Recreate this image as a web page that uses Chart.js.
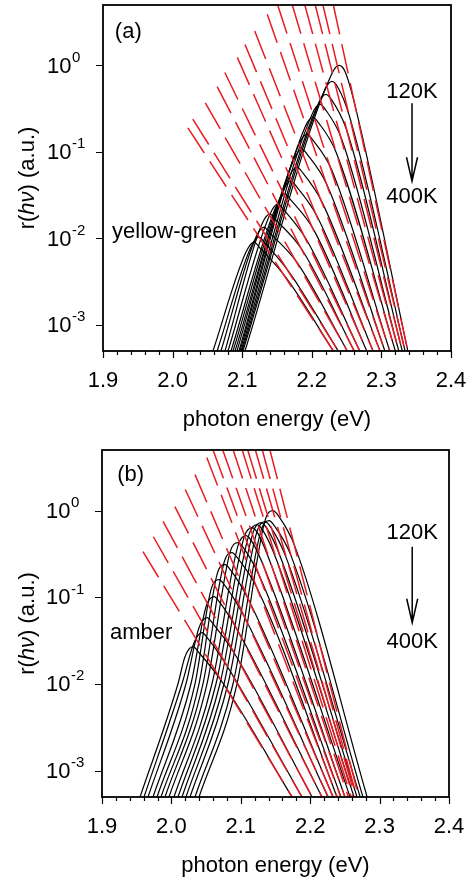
<!DOCTYPE html>
<html>
<head>
<meta charset="utf-8">
<script src="https://cdn.jsdelivr.net/npm/chart.js@4.4.1/dist/chart.umd.min.js"></script>
<style>
    body { margin: 0; background: #fff; }
    #wrap { position: relative; width: 470px; height: 883px; }
    canvas { position: absolute; left: 0; }
    #chart-a { top: 0; }
    #chart-b { top: 440px; }
</style>
</head>
<body>
<div id="wrap">
    <canvas id="chart-a" width="470" height="440"></canvas>
    <canvas id="chart-b" width="470" height="443"></canvas>
</div>
<script>
// Axis ranges and ticks
const X_MIN = 1.9, X_MAX = 2.4;
const Y_MIN = 5e-4, Y_MAX = 5;
const xTicks = [1.9, 2.0, 2.1, 2.2, 2.3, 2.4];
const xTickLabels = ['1.9', '2.0', '2.1', '2.2', '2.3', '2.4'];
const xMinorTicks = [1.92, 1.94, 1.96, 1.98, 2.02, 2.04, 2.06, 2.08, 2.12, 2.14, 2.16, 2.18,
                     2.22, 2.24, 2.26, 2.28, 2.32, 2.34, 2.36, 2.38];
const yTicks = [1e-3, 1e-2, 1e-1, 1];
const yTickExp = ['-3', '-2', '-1', '0'];

// Panel (a) yellow-green: spectra [photon energy, r], 400K first ... 120K last
const spectraA = [
    [[2.058, 5e-4], [2.1055, 0.00697], [2.117, 0.00908], [2.1256, 0.00775], [2.1622, 0.00359], [2.231, 5e-4]],
    [[2.064, 5e-4], [2.1126, 0.00796], [2.1241, 0.01038], [2.1328, 0.00885], [2.1672, 0.0041], [2.238, 5e-4]],
    [[2.0695, 5e-4], [2.1198, 0.01038], [2.1313, 0.01353], [2.1399, 0.01154], [2.1782, 0.00535], [2.251, 5e-4]],
    [[2.0753, 5e-4], [2.1284, 0.01466], [2.1399, 0.0191], [2.1486, 0.0163], [2.1853, 0.00755], [2.261, 5e-4]],
    [[2.0796, 5e-4], [2.1399, 0.0191], [2.1514, 0.0249], [2.1601, 0.0213], [2.1918, 0.00984], [2.269, 5e-4]],
    [[2.0839, 5e-4], [2.15, 0.0249], [2.1615, 0.0325], [2.1701, 0.0277], [2.2022, 0.01283], [2.279, 5e-4]],
    [[2.0868, 5e-4], [2.1586, 0.0352], [2.1701, 0.0459], [2.1787, 0.0392], [2.2075, 0.0181], [2.288, 5e-4]],
    [[2.0897, 5e-4], [2.1672, 0.0511], [2.1787, 0.0667], [2.1874, 0.0568], [2.2147, 0.0263], [2.298, 5e-4]],
    [[2.0925, 5e-4], [2.1744, 0.0824], [2.1859, 0.1074], [2.1945, 0.0916], [2.2214, 0.0424], [2.305, 5e-4]],
    [[2.0954, 5e-4], [2.1816, 0.1227], [2.1931, 0.16], [2.2017, 0.1364], [2.2282, 0.0631], [2.312, 5e-4]],
    [[2.0968, 5e-4], [2.1902, 0.1927], [2.2017, 0.251], [2.2103, 0.2143], [2.2349, 0.0993], [2.32, 5e-4]],
    [[2.0983, 5e-4], [2.2003, 0.272], [2.2118, 0.355], [2.2204, 0.303], [2.243, 0.14], [2.325, 5e-4]],
    [[2.0997, 5e-4], [2.2089, 0.355], [2.2204, 0.463], [2.229, 0.395], [2.2497, 0.183], [2.33, 5e-4]],
    [[2.1011, 5e-4], [2.2175, 0.501], [2.229, 0.654], [2.2376, 0.557], [2.2542, 0.258], [2.334, 5e-4]],
    [[2.104, 5e-4], [2.2276, 0.767], [2.2391, 1.0], [2.2477, 0.853], [2.2603, 0.395], [2.338, 5e-4]]
];
// Panel (a) fitted tails (red dashed): start point and end energy at the bottom
const fitStartEA = [2.022, 2.029, 2.047, 2.064, 2.075, 2.093, 2.104, 2.118, 2.136, 2.151, 2.172, 2.190, 2.205, 2.216, 2.231];
const fitStartRA = [0.19, 0.24, 0.37, 0.57, 0.83, 1.24, 1.75, 2.5, 3.9, 5, 5, 5, 5, 5, 5];
const fitEndEA = [2.231, 2.238, 2.251, 2.261, 2.269, 2.279, 2.288, 2.298, 2.305, 2.312, 2.320, 2.325, 2.330, 2.334, 2.338];

// Panel (b) amber
const spectraB = [
    [[1.9548, 5e-4], [2.0095, 0.0101], [2.0196, 0.0207], [2.0311, 0.027], [2.0398, 0.023], [2.0729, 0.01066], [2.1738, 5e-4]],
    [[1.9605, 5e-4], [2.0153, 0.0101], [2.0326, 0.03], [2.0441, 0.0392], [2.0527, 0.0334], [2.0817, 0.01545], [2.1882, 5e-4]],
    [[1.9663, 5e-4], [2.021, 0.0101], [2.0398, 0.0447], [2.0513, 0.0583], [2.0599, 0.0497], [2.0902, 0.023], [2.2026, 5e-4]],
    [[1.9735, 5e-4], [2.0282, 0.0101], [2.0499, 0.0781], [2.0614, 0.1019], [2.07, 0.0869], [2.0965, 0.0402], [2.217, 5e-4]],
    [[1.9793, 5e-4], [2.034, 0.0101], [2.0571, 0.1227], [2.0686, 0.16], [2.0772, 0.1364], [2.1035, 0.0631], [2.2256, 5e-4]],
    [[1.985, 5e-4], [2.0398, 0.0101], [2.0657, 0.183], [2.0772, 0.238], [2.0859, 0.203], [2.1112, 0.094], [2.2329, 5e-4]],
    [[1.9908, 5e-4], [2.0455, 0.0101], [2.0758, 0.251], [2.0873, 0.328], [2.096, 0.279], [2.1232, 0.1294], [2.2386, 5e-4]],
    [[1.9965, 5e-4], [2.0513, 0.0101], [2.0844, 0.328], [2.096, 0.428], [2.1046, 0.365], [2.128, 0.1687], [2.2444, 5e-4]],
    [[2.0037, 5e-4], [2.0585, 0.0101], [2.096, 0.395], [2.1075, 0.515], [2.1161, 0.439], [2.1356, 0.203], [2.2501, 5e-4]],
    [[2.0095, 5e-4], [2.0643, 0.0101], [2.1046, 0.488], [2.1161, 0.637], [2.1248, 0.543], [2.1427, 0.251], [2.2574, 5e-4]],
    [[2.0153, 5e-4], [2.07, 0.0101], [2.1118, 0.529], [2.1233, 0.69], [2.132, 0.588], [2.1514, 0.272], [2.2632, 5e-4]],
    [[2.021, 5e-4], [2.0758, 0.0101], [2.1176, 0.557], [2.1291, 0.727], [2.1378, 0.62], [2.1575, 0.287], [2.2675, 5e-4]],
    [[2.0268, 5e-4], [2.0816, 0.0101], [2.1233, 0.573], [2.1349, 0.747], [2.1435, 0.637], [2.1648, 0.295], [2.272, 5e-4]],
    [[2.034, 5e-4], [2.0888, 0.0101], [2.1291, 0.588], [2.1406, 0.767], [2.1493, 0.654], [2.1723, 0.303], [2.276, 5e-4]],
    [[2.0398, 5e-4], [2.0945, 0.0101], [2.1349, 0.767], [2.1464, 1.0], [2.155, 0.853], [2.1775, 0.395], [2.282, 5e-4]]
];
const fitStartEB = [1.959, 1.974, 1.988, 2.005, 2.020, 2.034, 2.051, 2.060, 2.074, 2.089, 2.102, 2.110, 2.121, 2.131, 2.142];
const fitStartRB = [0.337, 0.50, 0.75, 1.11, 1.75, 2.6, 4.1, 5, 5, 5, 5, 5, 5, 5, 5];
const fitEndEB = [2.174, 2.188, 2.203, 2.217, 2.226, 2.233, 2.239, 2.244, 2.250, 2.255, 2.259, 2.262, 2.265, 2.267, 2.270];

// Text labels placed in data coordinates
const labelsA = [
    { text: '(a)', x: 1.917, y: 2.47, align: 'left' },
    { text: 'yellow-green', x: 1.913, y: 0.0119, align: 'left' },
    { text: '120K', x: 2.344, y: 0.50, align: 'center' },
    { text: '400K', x: 2.344, y: 0.030, align: 'center' }
];
const arrowA = { x: 2.344, from: 0.365, to: 0.0459 };
const labelsB = [
    { text: '(b)', x: 1.922, y: 2.6, align: 'left' },
    { text: 'amber', x: 1.9115, y: 0.039, align: 'left' },
    { text: '120K', x: 2.347, y: 0.557, align: 'center' },
    { text: '400K', x: 2.347, y: 0.0308, align: 'center' }
];
const arrowB = { x: 2.347, from: 0.384, to: 0.051 };

const FONT = '"Liberation Sans", Arial, Helvetica, sans-serif';
const RED = 'rgb(232, 28, 36)';

// Frame, ticks, labels and titles
const axesPlugin = {
    id: 'axesPlugin',
    afterDraw(chart, args, opts) {
        const ctx = chart.ctx;
        const a = chart.chartArea;
        const xs = chart.scales.x;
        const ys = chart.scales.y;
        ctx.save();
        ctx.strokeStyle = '#000';
        ctx.fillStyle = '#000';

        ctx.lineWidth = 1.2;
        ctx.beginPath();
        xMinorTicks.forEach(v => {
            const px = Math.round(xs.getPixelForValue(v)) + 0.5;
            ctx.moveTo(px, a.bottom); ctx.lineTo(px, a.bottom + 4);
        });
        xTicks.forEach(v => {
            const px = Math.round(xs.getPixelForValue(v)) + 0.5;
            ctx.moveTo(px, a.bottom); ctx.lineTo(px, a.bottom + 7);
        });
        yTicks.forEach(v => {
            const py = Math.round(ys.getPixelForValue(v)) + 0.5;
            ctx.moveTo(a.left - 7, py); ctx.lineTo(a.left, py);
        });
        ctx.stroke();

        ctx.lineWidth = 1.8;
        ctx.strokeRect(a.left, a.top, a.right - a.left, a.bottom - a.top);

        // x tick labels
        ctx.font = '22px ' + FONT;
        ctx.textAlign = 'center';
        ctx.textBaseline = 'middle';
        xTicks.forEach((v, i) => ctx.fillText(xTickLabels[i], xs.getPixelForValue(v), a.bottom + 30));

        // y tick labels 10^n
        ctx.textAlign = 'left';
        yTicks.forEach((v, i) => {
            const py = ys.getPixelForValue(v);
            ctx.font = '22px ' + FONT;
            ctx.fillText('10', a.left - 56, py + 1);
            ctx.font = '15px ' + FONT;
            ctx.fillText(yTickExp[i], a.left - 31, py - 8);
        });

        // x title
        ctx.font = '22px ' + FONT;
        ctx.textAlign = 'center';
        ctx.fillText('photon energy (eV)', (a.left + a.right) / 2, a.bottom + 69);

        // y title, hν in italic
        const parts = [['r(', ''], ['h\u03bd', 'italic '], [') (a.u.)', '']];
        let total = 0;
        parts.forEach(p => { ctx.font = p[1] + '22px ' + FONT; total += ctx.measureText(p[0]).width; });
        ctx.save();
        ctx.translate(28, (a.top + a.bottom) / 2);
        ctx.rotate(-Math.PI / 2);
        ctx.textAlign = 'left';
        let pos = -total / 2;
        parts.forEach(p => {
            ctx.font = p[1] + '22px ' + FONT;
            ctx.fillText(p[0], pos, 0);
            pos += ctx.measureText(p[0]).width;
        });
        ctx.restore();

        // labels inside the plot
        ctx.font = '22px ' + FONT;
        opts.labels.forEach(l => {
            ctx.textAlign = l.align;
            ctx.fillText(l.text, xs.getPixelForValue(l.x), ys.getPixelForValue(l.y));
        });

        // arrow 120K -> 400K
        const ax = xs.getPixelForValue(opts.arrow.x);
        const y1 = ys.getPixelForValue(opts.arrow.from);
        const y2 = ys.getPixelForValue(opts.arrow.to);
        ctx.lineWidth = 1.5;
        ctx.beginPath();
        ctx.moveTo(ax, y1); ctx.lineTo(ax, y2);
        ctx.moveTo(ax - 5.5, y2 - 24); ctx.lineTo(ax, y2); ctx.lineTo(ax + 5.5, y2 - 24);
        ctx.stroke();

        ctx.restore();
    }
};

// Build datasets: red fits on top, black spectra below
function buildDatasets(spectra, startE, startR, endE) {
    const datasets = [];
    startE.forEach((e, i) => {
        datasets.push({
            data: [{ x: e, y: startR[i] }, { x: endE[i], y: Y_MIN }],
            borderColor: RED,
            borderWidth: 1.5,
            borderDash: [30, 10],
            pointRadius: 0
        });
    });
    spectra.forEach(curve => {
        datasets.push({
            data: curve.map(p => ({ x: p[0], y: p[1] })),
            borderColor: '#000',
            borderWidth: 1.2,
            pointRadius: 0,
            cubicInterpolationMode: 'monotone'
        });
    });
    return datasets;
}

function createPanel(id, datasets, labels, arrow, pad, yWidth, xHeight) {
    const ctx = document.getElementById(id).getContext('2d');
    return new Chart(ctx, {
        type: 'line',
        data: { datasets: datasets },
        options: {
            responsive: false,
            animation: false,
            events: [],
            layout: { padding: pad },
            scales: {
                x: {
                    type: 'linear', min: X_MIN, max: X_MAX,
                    grid: { display: false }, border: { display: false },
                    ticks: { display: false },
                    afterFit: s => { s.height = xHeight; }
                },
                y: {
                    type: 'logarithmic', min: Y_MIN, max: Y_MAX,
                    grid: { display: false }, border: { display: false },
                    ticks: { display: false },
                    afterFit: s => { s.width = yWidth; }
                }
            },
            plugins: {
                legend: { display: false },
                tooltip: { enabled: false },
                axesPlugin: { labels: labels, arrow: arrow }
            }
        },
        plugins: [axesPlugin]
    });
}

createPanel('chart-a', buildDatasets(spectraA, fitStartEA, fitStartRA, fitEndEA), labelsA, arrowA,
    { top: 5, right: 19, left: 0, bottom: 0 }, 103, 89);
createPanel('chart-b', buildDatasets(spectraB, fitStartEB, fitStartRB, fitEndEB), labelsB, arrowB,
    { top: 10, right: 21, left: 0, bottom: 0 }, 102, 86);
</script>
</body>
</html>
